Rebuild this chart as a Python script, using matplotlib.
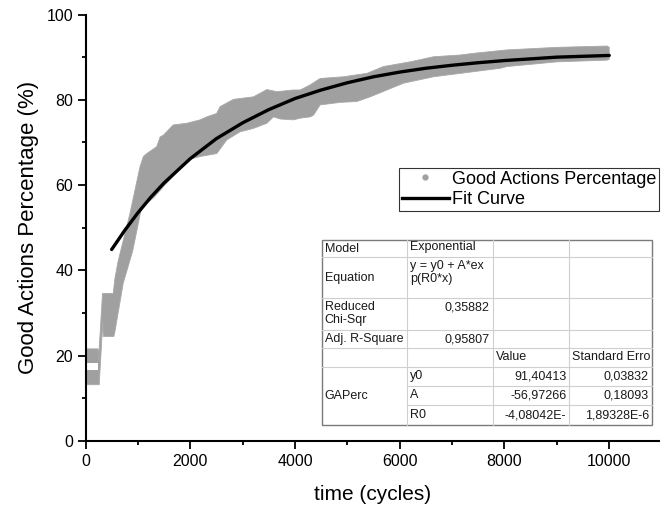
import numpy as np
import matplotlib
matplotlib.use('Agg')
import matplotlib.pyplot as plt
from matplotlib.lines import Line2D
from matplotlib.ticker import MultipleLocator

plt.rcParams['font.family'] = ['Liberation Sans', 'DejaVu Sans']

# Scatter band (outline): upper edge left->right
band_up_x = [0, 240, 248, 325, 530, 560, 620, 660, 850, 1040, 1105, 1170, 1360, 1425,
             1487, 1675, 1934, 2190, 2316, 2505, 2570, 2825, 3207, 3463, 3654, 3970,
             4100, 4290, 4480, 4927, 5374, 5690, 6200, 6646, 7156, 7412, 8049, 9004,
             9960, 10000]
band_up_y = [21.6, 21.6, 19.0, 34.6, 34.6, 38.0, 42.0, 44.0, 53.4, 64.3, 66.7, 67.4, 69.0, 71.3,
             71.7, 74.1, 74.5, 75.3, 76.0, 76.8, 78.4, 80.1, 80.7, 82.4, 81.9, 82.3,
             82.3, 83.5, 85.0, 85.4, 86.2, 87.8, 88.9, 90.1, 90.5, 90.9, 91.7, 92.3,
             92.6, 92.3]
# lower edge right->left
band_lo_x = [10000, 9960, 9004, 8049, 7922, 7412, 7156, 6646, 6073, 5755, 5437, 5182,
             4864, 4480, 4354, 4290, 4100, 3970, 3720, 3590, 3463, 3207, 2952, 2698,
             2507, 2190, 1934, 1700, 1500, 1300, 1073, 900, 720, 560, 540, 340, 330,
             262, 0]
band_lo_y = [89.5, 89.3, 88.9, 87.8, 87.4, 86.6, 86.2, 85.4, 83.9, 82.3, 80.7, 79.6,
             79.4, 78.8, 76.4, 76.0, 75.7, 75.3, 75.5, 76.0, 74.5, 73.3, 72.5, 70.6,
             67.4, 66.7, 65.9, 62.4, 59.8, 57.0, 54.9, 44.5, 37.0, 25.5, 24.5, 24.5, 28.0,
             13.2, 13.2]
# small empty gap inside the first block
gap_x = [30, 240, 240, 30]
gap_y = [16.6, 16.6, 18.3, 18.3]

# Fit curve
fit_x = [500, 750, 1000, 1250, 1500, 2000, 2500, 3000, 3500, 4000, 4500, 5000,
         5500, 6000, 6500, 7000, 7500, 8000, 8500, 9000, 9500, 10000]
fit_y = [44.9, 49.4, 53.5, 57.2, 60.5, 66.2, 70.9, 74.6, 77.7, 80.3, 82.3, 84.0,
         85.4, 86.5, 87.4, 88.1, 88.7, 89.2, 89.6, 90.0, 90.2, 90.4]

# Fit report table
table_rows = [
    ['Model', 'Exponential', '', ''],
    ['Equation', 'y = y0 + A*ex\np(R0*x)', '', ''],
    ['Reduced\nChi-Sqr', '0,35882', '', ''],
    ['Adj. R-Square', '0,95807', '', ''],
    ['', '', 'Value', 'Standard Erro'],
]
param_names = ['y0', 'A', 'R0']
param_values = ['91,40413', '-56,97266', '-4,08042E-']
param_errors = ['0,03832', '0,18093', '1,89328E-6']

W, H = 669, 509
fig = plt.figure(figsize=(W / 100, H / 100), dpi=100)
ax = fig.add_axes([85.5 / W, 68 / H, (659 - 85.5) / W, (441 - 14.5) / H])

band = np.concatenate([band_up_x, band_lo_x]), np.concatenate([band_up_y, band_lo_y])
ax.fill(band[0], band[1], color='#a0a0a0', lw=0.6, ec='#a8a8a8', zorder=2)
ax.fill(gap_x, gap_y, color='white', lw=0, zorder=2.1)
ax.plot(fit_x, fit_y, color='black', lw=2.4, solid_capstyle='round', zorder=3)

ax.set_xlim(0, 10950)
ax.set_ylim(0, 100)
ax.xaxis.set_major_locator(MultipleLocator(2000))
ax.xaxis.set_minor_locator(MultipleLocator(1000))
ax.yaxis.set_major_locator(MultipleLocator(20))
ax.yaxis.set_minor_locator(MultipleLocator(10))
for s in ['top', 'right']:
    ax.spines[s].set_visible(False)
for s in ['left', 'bottom']:
    ax.spines[s].set_linewidth(1.5)
ax.tick_params(which='major', direction='out', length=6, width=1.3, labelsize=11.5, pad=3)
ax.tick_params(which='minor', direction='out', length=3.2, width=1.3)
ax.set_xlabel('time (cycles)', fontsize=15, labelpad=12)
ax.set_ylabel('Good Actions Percentage (%)', fontsize=16, labelpad=5)

handles = [Line2D([], [], marker='o', ls='none', color='#a0a0a0', markersize=3.5),
           Line2D([], [], color='black', lw=2.4)]
leg = fig.legend(handles, ['Good Actions Percentage', 'Fit Curve'], loc='upper left',
                 bbox_to_anchor=(399 / W, 1 - 168 / H), fontsize=13, frameon=True,
                 fancybox=False, borderpad=0.15, labelspacing=0.2, handlelength=2.6,
                 handletextpad=0.2, borderaxespad=0)
leg.get_frame().set_edgecolor('black')
leg.get_frame().set_linewidth(0.8)

# table drawn in pixel coordinates
tx = fig.add_axes([0, 0, 1, 1], facecolor='none')
tx.set_xlim(0, W)
tx.set_ylim(H, 0)
tx.axis('off')
cols = [321.7, 406.7, 492.5, 569.3, 652]
rows = [240, 257, 298, 330, 348, 367, 386, 405, 425]
tx.add_patch(plt.Rectangle((cols[0], rows[0]), cols[-1] - cols[0], rows[-1] - rows[0],
                           fill=True, fc='white', ec='#7a7a7a', lw=1.0, zorder=1))
line_kw = dict(color='#cfcfcf', lw=0.8, zorder=2)
for c in cols[1:-1]:
    tx.plot([c, c], [rows[0], rows[-1]], **line_kw)
for r in rows[1:6]:
    tx.plot([cols[0], cols[-1]], [r, r], **line_kw)
for r in rows[6:8]:
    tx.plot([cols[1], cols[-1]], [r, r], **line_kw)

fs = 9
pad = 3
for i, row in enumerate(table_rows):
    top, bot = rows[i], rows[i + 1]
    two_line = any('\n' in t for t in row)
    for j, t in enumerate(row):
        if not t:
            continue
        right = t[0].isdigit() or t[0] == '-'
        xpos = cols[j + 1] - pad if right else cols[j] + pad
        if two_line:
            va, ypos = 'top', top + 3
            if j == 0 and i == 1:
                va, ypos = 'center', (top + bot) / 2
        else:
            va, ypos = 'center', (top + bot) / 2
            if i == 0 and j == 1:
                ypos -= 1.5
        tx.text(xpos, ypos, t, ha='right' if right else 'left', va=va, fontsize=fs,
                color='#1a1a1a', linespacing=1.1, zorder=3)
tx.text(cols[0] + pad, (rows[5] + rows[8]) / 2, 'GAPerc', ha='left', va='center',
        fontsize=fs, color='#1a1a1a', zorder=3)
for k in range(3):
    yc = (rows[5 + k] + rows[6 + k]) / 2
    tx.text(cols[1] + pad, yc, param_names[k], ha='left', va='center', fontsize=fs,
            color='#1a1a1a', zorder=3)
    tx.text(cols[3] - pad, yc, param_values[k], ha='right', va='center', fontsize=fs,
            color='#1a1a1a', zorder=3)
    tx.text(cols[4] - pad, yc, param_errors[k], ha='right', va='center', fontsize=fs,
            color='#1a1a1a', zorder=3)

fig.savefig('out.png', dpi=100)
